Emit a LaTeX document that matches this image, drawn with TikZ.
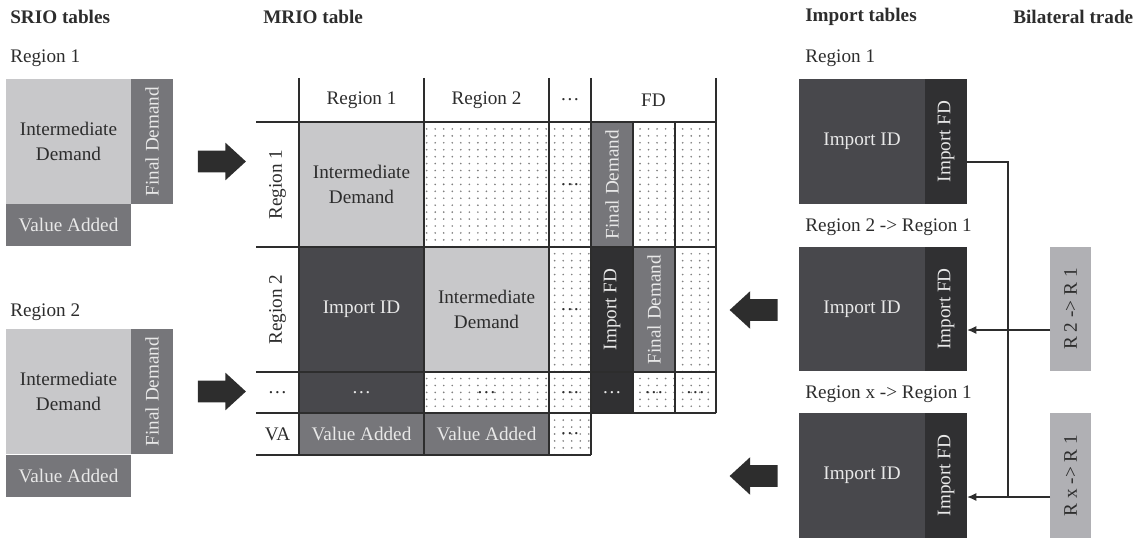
\documentclass[tikz,border=0pt]{standalone}
\usepackage{fontspec}
\setmainfont{Liberation Serif}
\usetikzlibrary{arrows.meta,calc,shapes.arrows,patterns.meta}

\definecolor{idgray}{RGB}{200,200,202}
\definecolor{fdgray}{RGB}{118,118,122}
\definecolor{impgray}{RGB}{72,72,76}
\definecolor{impfdgray}{RGB}{48,48,50}
\definecolor{tradegray}{RGB}{176,176,180}
\definecolor{inkdark}{RGB}{45,45,45}
\definecolor{inklight}{RGB}{232,232,232}

\tikzdeclarepattern{
  name=celldots,
  type=uncolored,
  bottom left={(-1pt,-1pt)},
  top right={(5.4pt,4.2pt)},
  tile size={(6.4pt,5.2pt)},
  code={\fill (0pt,0pt) circle [radius=0.7pt];}
}

\begin{document}
\begin{tikzpicture}[
  x=0.75pt,y=-0.75pt,
  font=\fontsize{14.4}{18.5}\selectfont,
  >={Latex[length=7pt,width=6pt]},
  cell/.style 2 args={inner sep=0pt,outer sep=0pt,minimum width=#1*0.75pt,minimum height=#2*0.75pt,align=center},
  idcell/.style={fill=idgray,text=inkdark},
  fdcell/.style={fill=fdgray,text=inklight},
  impcell/.style={fill=impgray,text=inklight},
  impfdcell/.style={fill=impfdgray,text=inklight},
  dotcell/.style={pattern=celldots,pattern color=black!50,text=inkdark},
  tradecell/.style={fill=tradegray,text=inkdark},
  sectiontitle/.style={font=\fontsize{14.4}{18.5}\selectfont\bfseries,anchor=west,inner sep=0pt,text=inkdark},
  regionlabel/.style={anchor=west,inner sep=0pt,text=inkdark},
  headlabel/.style={inner sep=0pt,text=inkdark},
  bigarrow/.style={single arrow,fill=inkdark,inner xsep=0pt,inner ysep=7.9pt,minimum height=48*0.75pt,single arrow head extend=6pt,single arrow tip angle=85},
  tableline/.style={draw=inkdark,line width=1pt},
  link/.style={draw=inkdark,line width=1.1pt}
]
  \useasboundingbox (0,0) rectangle (1137,538);

  % SRIO tables
  \node[sectiontitle] (srio) at (10,17) {SRIO tables};
  \node[regionlabel] (s1lab) at (10,58) {Region 1};
  \node[cell={125}{125},idcell] (s1id) at (68.5,141.5) {Intermediate\\Demand};
  \node[cell={125}{42},fdcell,rotate=90] (s1fd) at (152,141.5) {Final Demand};
  \node[cell={125}{42},fdcell] (s1va) at (68.5,225) {Value Added};

  \node[regionlabel] (s2lab) at (10,312) {Region 2};
  \node[cell={125}{125},idcell] (s2id) at (68.5,391.5) {Intermediate\\Demand};
  \node[cell={125}{42},fdcell,rotate=90] (s2fd) at (152,391.5) {Final Demand};
  \node[cell={125}{42},fdcell] (s2va) at (68.5,475.5) {Value Added};

  \node[bigarrow] (a1) at (216,161.5) {};
  \node[bigarrow] (a2) at (216,391.5) {};

  % MRIO table
  \node[sectiontitle] (mrio) at (263,17) {MRIO table};
  \node[headlabel] (hr1) at (361.5,100) {Region 1};
  \node[headlabel] (hr2) at (486.5,100) {Region 2};
  \node[headlabel] (hdots) at (570,100) {\dots};
  \node[headlabel] (hfd) at (653.5,100) {FD};
  \node[headlabel,rotate=90] (vr1) at (277.5,184.5) {Region 1};
  \node[headlabel,rotate=90] (vr2) at (277.5,309.5) {Region 2};
  \node[headlabel] (vdots) at (277.5,392.5) {\dots};
  \node[headlabel] (vva) at (277.5,434) {VA};

  \node[cell={125}{125},idcell] (m11) at (361.5,184.5) {Intermediate\\Demand};
  \node[cell={125}{125},dotcell] (m12) at (486.5,184.5) {};
  \node[cell={42}{125},dotcell] (m13) at (570,184.5) {\dots};
  \node[cell={125}{42},fdcell,rotate=90] (m1f1) at (612,184.5) {Final Demand};
  \node[cell={42}{125},dotcell] (m1f2) at (654,184.5) {};
  \node[cell={41}{125},dotcell] (m1f3) at (695.5,184.5) {};

  \node[cell={125}{125},impcell] (m21) at (361.5,309.5) {Import ID};
  \node[cell={125}{125},idcell] (m22) at (486.5,309.5) {Intermediate\\Demand};
  \node[cell={42}{125},dotcell] (m23) at (570,309.5) {\dots};
  \node[cell={125}{42},impfdcell,rotate=90] (m2f1) at (612,309.5) {Import FD};
  \node[cell={125}{42},fdcell,rotate=90] (m2f2) at (654,309.5) {Final Demand};
  \node[cell={41}{125},dotcell] (m2f3) at (695.5,309.5) {};

  \node[cell={125}{41},impcell] (m31) at (361.5,392.5) {\dots};
  \node[cell={125}{41},dotcell] (m32) at (486.5,392.5) {\dots};
  \node[cell={42}{41},dotcell] (m33) at (570,392.5) {\dots};
  \node[cell={42}{41},impfdcell] (m3f1) at (612,392.5) {\dots};
  \node[cell={42}{41},dotcell] (m3f2) at (654,392.5) {\dots};
  \node[cell={41}{41},dotcell] (m3f3) at (695.5,392.5) {\dots};

  \node[cell={125}{42},fdcell] (m41) at (361.5,434) {Value Added};
  \node[cell={125}{42},fdcell] (m42) at (486.5,434) {Value Added};
  \node[cell={42}{42},dotcell] (m43) at (570,434) {\dots};

  \foreach \y in {122,247,372,413}
    \draw[tableline] (256,\y) -- (716,\y);
  \draw[tableline] (256,455) -- (591,455);
  \foreach \x in {299,424,549,591}
    \draw[tableline] (\x,78) -- (\x,455);
  \foreach \x in {633,675}
    \draw[tableline] (\x,122) -- (\x,413);
  \draw[tableline] (716,78) -- (716,413);

  % import tables
  \node[sectiontitle] (imp) at (805,17) {Import tables};
  \node[sectiontitle] (bil) at (1013,17) {Bilateral trade};
  \node[regionlabel] (i1lab) at (805,58) {Region 1};
  \node[cell={126}{125},impcell] (i1id) at (862,141.5) {Import ID};
  \node[cell={125}{42},impfdcell,rotate=90] (i1fd) at (946,141.5) {Import FD};

  \node[regionlabel] (i2lab) at (805,227) {Region 2 -> Region 1};
  \node[cell={126}{124},impcell] (i2id) at (862,309) {Import ID};
  \node[cell={124}{42},impfdcell,rotate=90] (i2fd) at (946,309) {Import FD};

  \node[regionlabel] (i3lab) at (805,394) {Region x -> Region 1};
  \node[cell={126}{125},impcell] (i3id) at (862,475.5) {Import ID};
  \node[cell={125}{42},impfdcell,rotate=90] (i3fd) at (946,475.5) {Import FD};

  \node[cell={124}{41},tradecell,rotate=90] (b2) at (1070.5,309) {R 2 -> R 1};
  \node[cell={125}{41},tradecell,rotate=90] (bx) at (1070.5,475.5) {R x -> R 1};

  \node[bigarrow,shape border rotate=180] (a3) at (759.5,310) {};
  \node[bigarrow,shape border rotate=180] (a4) at (759.5,476) {};

  \coordinate (split) at (1008,497);
  \draw[link] ($(i1fd.south)+(0,20.5)$) -| (split);
  \draw[link,->] ($(b2.north)+(0,21)$) -- ($(i2fd.south)+(0,21)$);
  \draw[link,->] ($(bx.north)+(0,21.5)$) -- ($(i3fd.south)+(0,21.5)$);

\end{tikzpicture}
\end{document}
